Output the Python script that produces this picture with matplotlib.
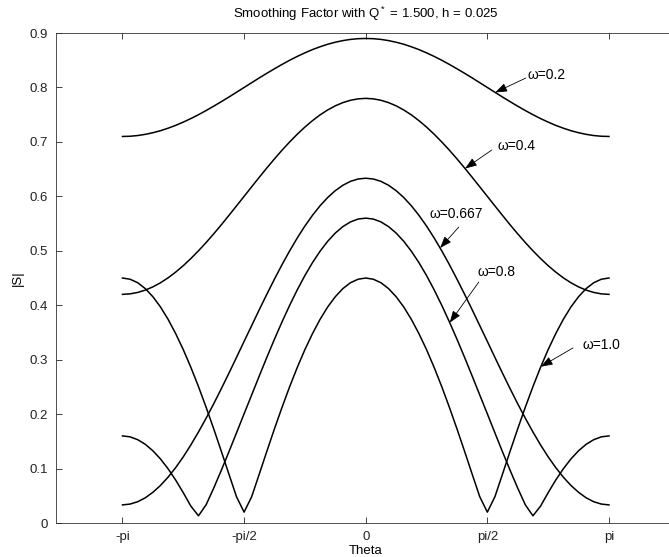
import numpy as np
import matplotlib
matplotlib.use("Agg")
import matplotlib.pyplot as plt

plt.rcParams['font.family'] = ['Liberation Sans', 'DejaVu Sans']
plt.rcParams['mathtext.fontset'] = 'custom'
plt.rcParams['mathtext.rm'] = 'Liberation Sans'
plt.rcParams['mathtext.it'] = 'Liberation Sans:italic'

# sample positions: theta = k*pi/32, k = -32..32
theta = np.arange(-32, 33) * np.pi / 32

# |S| values, from theta = -pi to pi
s_w02 = [0.7100, 0.7104, 0.7117, 0.7139, 0.7169, 0.7206, 0.7252, 0.7304, 0.7364,
         0.7429, 0.7500, 0.7576, 0.7656, 0.7739, 0.7824, 0.7912, 0.8000,
         0.8088, 0.8176, 0.8261, 0.8344, 0.8424, 0.8500, 0.8571, 0.8636,
         0.8696, 0.8748, 0.8794, 0.8831, 0.8861, 0.8883, 0.8896, 0.8900,
         0.8896, 0.8883, 0.8861, 0.8831, 0.8794, 0.8748, 0.8696, 0.8636,
         0.8571, 0.8500, 0.8424, 0.8344, 0.8261, 0.8176, 0.8088, 0.8000,
         0.7912, 0.7824, 0.7739, 0.7656, 0.7576, 0.7500, 0.7429, 0.7364,
         0.7304, 0.7252, 0.7206, 0.7169, 0.7139, 0.7117, 0.7104, 0.7100]

s_w04 = [0.4200, 0.4209, 0.4235, 0.4278, 0.4337, 0.4413, 0.4503, 0.4609, 0.4727,
         0.4858, 0.5000, 0.5151, 0.5311, 0.5477, 0.5649, 0.5824, 0.6000,
         0.6176, 0.6351, 0.6523, 0.6689, 0.6849, 0.7000, 0.7142, 0.7273,
         0.7391, 0.7497, 0.7587, 0.7663, 0.7722, 0.7765, 0.7791, 0.7800,
         0.7791, 0.7765, 0.7722, 0.7663, 0.7587, 0.7497, 0.7391, 0.7273,
         0.7142, 0.7000, 0.6849, 0.6689, 0.6523, 0.6351, 0.6176, 0.6000,
         0.5824, 0.5649, 0.5477, 0.5311, 0.5151, 0.5000, 0.4858, 0.4727,
         0.4609, 0.4503, 0.4413, 0.4337, 0.4278, 0.4235, 0.4209, 0.4200]

s_w0667 = [0.0333, 0.0348, 0.0391, 0.0463, 0.0564, 0.0690, 0.0842, 0.1018, 0.1216,
           0.1435, 0.1672, 0.1924, 0.2189, 0.2466, 0.2751, 0.3041, 0.3336,
           0.3627, 0.3919, 0.4204, 0.4481, 0.4748, 0.5000, 0.5237, 0.5455,
           0.5652, 0.5828, 0.5979, 0.6105, 0.6204, 0.6276, 0.6319, 0.6333,
           0.6319, 0.6276, 0.6204, 0.6105, 0.5979, 0.5828, 0.5652, 0.5455,
           0.5237, 0.5000, 0.4748, 0.4481, 0.4204, 0.3919, 0.3627, 0.3336,
           0.3041, 0.2751, 0.2466, 0.2189, 0.1924, 0.1672, 0.1435, 0.1216,
           0.1018, 0.0842, 0.0690, 0.0564, 0.0463, 0.0391, 0.0348, 0.0333]

s_w08 = [0.1600, 0.1583, 0.1531, 0.1446, 0.1327, 0.1177, 0.0997, 0.0789, 0.0557,
         0.0310, 0.0133, 0.0334, 0.0640, 0.0967, 0.1307, 0.1655, 0.2006,
         0.2353, 0.2702, 0.3045, 0.3378, 0.3697, 0.4000, 0.4284, 0.4546,
         0.4783, 0.4993, 0.5175, 0.5326, 0.5445, 0.5531, 0.5583, 0.5600,
         0.5583, 0.5531, 0.5445, 0.5326, 0.5175, 0.4993, 0.4783, 0.4546,
         0.4284, 0.4000, 0.3697, 0.3378, 0.3045, 0.2702, 0.2353, 0.2006,
         0.1655, 0.1307, 0.0967, 0.0640, 0.0334, 0.0133, 0.0310, 0.0557,
         0.0789, 0.0997, 0.1177, 0.1327, 0.1446, 0.1531, 0.1583, 0.1600]

s_w10 = [0.4500, 0.4478, 0.4414, 0.4306, 0.4157, 0.3969, 0.3742, 0.3479, 0.3185,
         0.2859, 0.2506, 0.2128, 0.1732, 0.1320, 0.0900, 0.0484, 0.0200,
         0.0484, 0.0900, 0.1320, 0.1732, 0.2128, 0.2506, 0.2859, 0.3185,
         0.3479, 0.3742, 0.3969, 0.4157, 0.4306, 0.4414, 0.4478, 0.4500,
         0.4478, 0.4414, 0.4306, 0.4157, 0.3969, 0.3742, 0.3479, 0.3185,
         0.2859, 0.2506, 0.2128, 0.1732, 0.1320, 0.0900, 0.0484, 0.0200,
         0.0484, 0.0900, 0.1320, 0.1732, 0.2128, 0.2506, 0.2859, 0.3185,
         0.3479, 0.3742, 0.3969, 0.4157, 0.4306, 0.4414, 0.4478, 0.4500]

series = [s_w02, s_w04, s_w0667, s_w08, s_w10]
labels = ['ω=0.2', 'ω=0.4', 'ω=0.667', 'ω=0.8', 'ω=1.0']

xtick_vals = [-np.pi, -np.pi / 2, 0, np.pi / 2, np.pi]
xtick_labels = ['-pi', '-pi/2', '0', 'pi/2', 'pi']
ytick_vals = [0, 0.1, 0.2, 0.3, 0.4, 0.5, 0.6, 0.7, 0.8, 0.9]
ytick_labels = ['0', '0.1', '0.2', '0.3', '0.4', '0.5', '0.6', '0.7', '0.8', '0.9']

# annotation layout (data coords): arrow-head theta on the curve,
# arrow tail position, label anchor (left, vertical centre)
ann_head_theta = [1.673, 1.283, 0.9605, 1.085, 2.262]
ann_tail = [(2.0686, 0.8174), (1.6289, 0.6852), (1.2023, 0.5437),
            (1.4609, 0.4427), (2.6761, 0.3215)]
ann_text = [(2.0944, 0.8229), (1.7065, 0.6925), (0.8274, 0.5676),
            (1.4479, 0.4611), (2.8054, 0.3270)]

FS = 9.5

fig = plt.figure(figsize=(6.69, 5.57), dpi=100)
ax = fig.add_axes([0.0837, 0.0610, 0.9259, 0.8797])

for s in series:
    ax.plot(theta, s, color='black', lw=1.1)

ax.set_xlim(-4, 4)
ax.set_ylim(0, 0.9)
ax.set_xticks(xtick_vals)
ax.set_xticklabels(xtick_labels)
ax.set_yticks(ytick_vals)
ax.set_yticklabels(ytick_labels)
ax.tick_params(direction='in', length=4, width=0.6, top=True, right=True,
               labelsize=FS, colors='#222222', pad=6)
for sp in ax.spines.values():
    sp.set_linewidth(0.6)
    sp.set_color('#333333')

ax.set_xlabel('Theta', fontsize=FS, labelpad=1)
ax.set_ylabel('|S|', fontsize=FS, labelpad=4)
ax.set_title('Smoothing Factor with Q$^*$ = 1.500, h = 0.025', fontsize=FS, pad=11)

for s, lab, th, tl, tx in zip(series, labels, ann_head_theta, ann_tail, ann_text):
    yv = float(np.interp(th, theta, s))
    ax.annotate('', xy=(th, yv), xycoords='data',
                xytext=tl, textcoords='data',
                arrowprops=dict(arrowstyle='-|>,head_length=0.6,head_width=0.22',
                                lw=0.6, color='black',
                                mutation_scale=12, shrinkA=0, shrinkB=0))
    ax.text(tx[0], tx[1], lab, ha='left', va='center', fontsize=10)

fig.savefig('out.png', dpi=100)
